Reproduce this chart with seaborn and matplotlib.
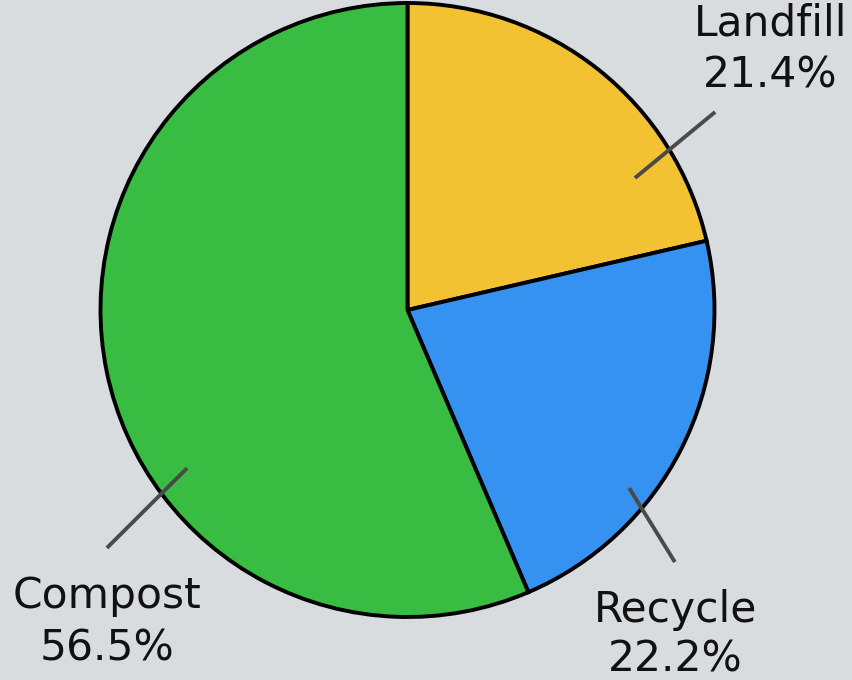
import numpy as np
import matplotlib
matplotlib.use("Agg")
import matplotlib.pyplot as plt
import seaborn as sns

categories = ["Landfill", "Recycle", "Compost"]
values = [21.4, 22.2, 56.5]
pct_labels = ["21.4%", "22.2%", "56.5%"]
colors = ["#F2C232", "#3592F0", "#38BC41"]

sns.set_theme(style="white")
plt.rcParams["font.family"] = ["DejaVu Sans"]

BG = "#D9DCDF"
W, H, DPI = 852, 680, 100
fig = plt.figure(figsize=(W / DPI, H / DPI), dpi=DPI, facecolor=BG)
ax = fig.add_axes([0, 0, 1, 1])
ax.set_facecolor(BG)

ax.pie(values, colors=colors, startangle=90, counterclock=False, radius=1.0,
       wedgeprops=dict(edgecolor="black", linewidth=2.8))

R_PX = 307.0
CX, CY = 407.5, 310.0
ax.set_xlim(-CX / R_PX, (W - CX) / R_PX)
ax.set_ylim(-(H - CY) / R_PX, CY / R_PX)
ax.set_aspect("auto")
ax.axis("off")

# leader lines (inner point, outer point) and label anchors, in pie-radius units
leader_inner = [(0.741, 0.430), (0.722, -0.580), (-0.718, -0.515)]
leader_outer = [(1.002, 0.645), (0.871, -0.821), (-0.979, -0.775)]
label_x = [1.182, 0.873, -0.980]
label_base = [(0.893, 0.726), (-1.016, -1.179), (-0.971, -1.143)]

for i, cat in enumerate(categories):
    (x0, y0), (x1, y1) = leader_inner[i], leader_outer[i]
    ax.plot([x0, x1], [y0, y1], color="#4A4A4A", lw=2.8, solid_capstyle="butt", zorder=5)
    ax.text(label_x[i], label_base[i][0], cat, ha="center", va="baseline",
            fontsize=30.5, color="#111111")
    ax.text(label_x[i], label_base[i][1], pct_labels[i], ha="center", va="baseline",
            fontsize=30.5, color="#111111")

fig.savefig("out.png", dpi=DPI, facecolor=BG)
